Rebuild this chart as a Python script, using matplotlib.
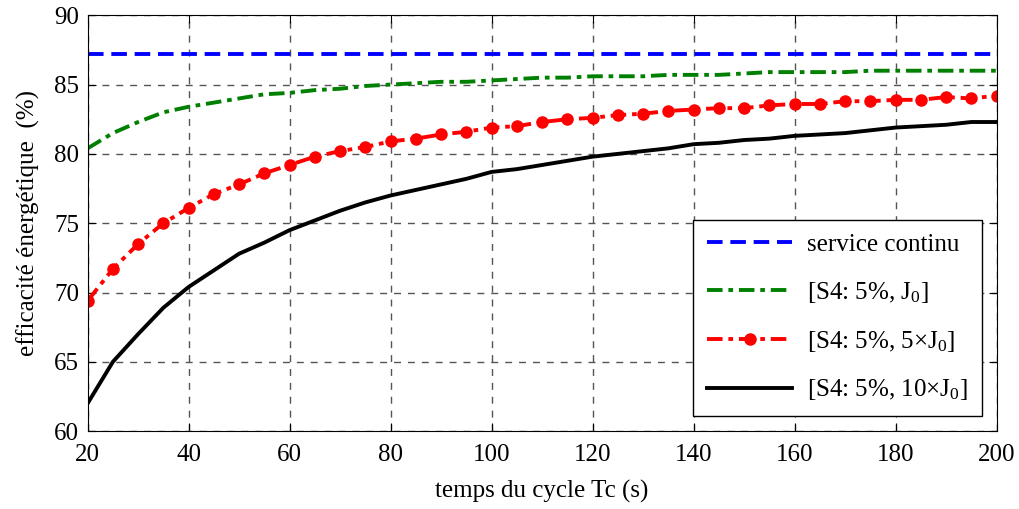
import matplotlib
matplotlib.use("Agg")
import matplotlib.pyplot as plt

plt.rcParams['font.family'] = ['Liberation Serif', 'DejaVu Serif']
plt.rcParams['mathtext.default'] = 'regular'

tc = [20, 25, 30, 35, 40, 45, 50, 55, 60, 65, 70, 75, 80, 85, 90, 95, 100,
      105, 110, 115, 120, 125, 130, 135, 140, 145, 150, 155, 160, 165, 170,
      175, 180, 185, 190, 195, 200]

continu = [87.2] * len(tc)

s4_j0 = [80.4, 81.5, 82.3, 83.0, 83.4, 83.7, 84.0, 84.3, 84.4, 84.6, 84.7,
         84.9, 85.0, 85.1, 85.2, 85.2, 85.3, 85.4, 85.5, 85.5, 85.6, 85.6,
         85.6, 85.7, 85.7, 85.7, 85.8, 85.9, 85.9, 85.9, 85.9, 86.0, 86.0,
         86.0, 86.0, 86.0, 86.0]

s4_5j0 = [69.4, 71.7, 73.5, 75.0, 76.1, 77.1, 77.8, 78.6, 79.2, 79.8, 80.2,
          80.5, 80.9, 81.1, 81.4, 81.6, 81.9, 82.0, 82.3, 82.5, 82.6, 82.8,
          82.9, 83.1, 83.2, 83.3, 83.3, 83.5, 83.6, 83.6, 83.8, 83.8, 83.9,
          83.9, 84.1, 84.0, 84.2]

s4_10j0 = [62.0, 65.0, 67.0, 68.9, 70.4, 71.6, 72.8, 73.6, 74.5, 75.2, 75.9,
           76.5, 77.0, 77.4, 77.8, 78.2, 78.7, 78.9, 79.2, 79.5, 79.8, 80.0,
           80.2, 80.4, 80.7, 80.8, 81.0, 81.1, 81.3, 81.4, 81.5, 81.7, 81.9,
           82.0, 82.1, 82.3, 82.3]

labels = ['service continu', '[S4: 5%, J$_0$]', '[S4: 5%, 5\u00d7J$_0$]',
          '[S4: 5%, 10\u00d7J$_0$]']

fig = plt.figure(figsize=(10.19, 5.09), dpi=100)
ax = fig.add_axes([0.086, 0.153, 0.892, 0.817])

ax.plot(tc, continu, color='blue', ls=(0, (4, 2)), lw=2.8, label=labels[0])
ax.plot(tc, s4_j0, color='green', ls=(0, (4, 1.5, 1.2, 1.5)), lw=2.8, label=labels[1])
ax.plot(tc, s4_5j0, color='red', ls=(0, (4, 1.5, 1.2, 1.5)), lw=2.8,
        marker='o', ms=8, label=labels[2])
ax.plot(tc, s4_10j0, color='black', ls='-', lw=2.8, label=labels[3])

ax.set_xlim(20, 200)
ax.set_ylim(60, 90)
ax.set_xticks(range(20, 201, 20))
ax.set_yticks(range(60, 91, 5))
ax.grid(True, color='#555555', ls=(0, (5, 5)), lw=1)
ax.tick_params(direction='in', top=True, right=True, length=6, labelsize=18)
ax.tick_params(axis='x', pad=9)
ax.tick_params(axis='y', pad=6)
ax.set_xlabel('temps du cycle Tc (s)', fontsize=18, labelpad=10)
ax.set_ylabel('efficacité énergétique  (%)', fontsize=18, labelpad=10)

leg = ax.legend(loc='lower right', fontsize=18, fancybox=False, framealpha=1,
                edgecolor='black', handlelength=3.4, handletextpad=0.6,
                borderaxespad=0.6, labelspacing=0.95, borderpad=0.55)
leg.get_frame().set_linewidth(1)

fig.savefig('out.png', dpi=100)
